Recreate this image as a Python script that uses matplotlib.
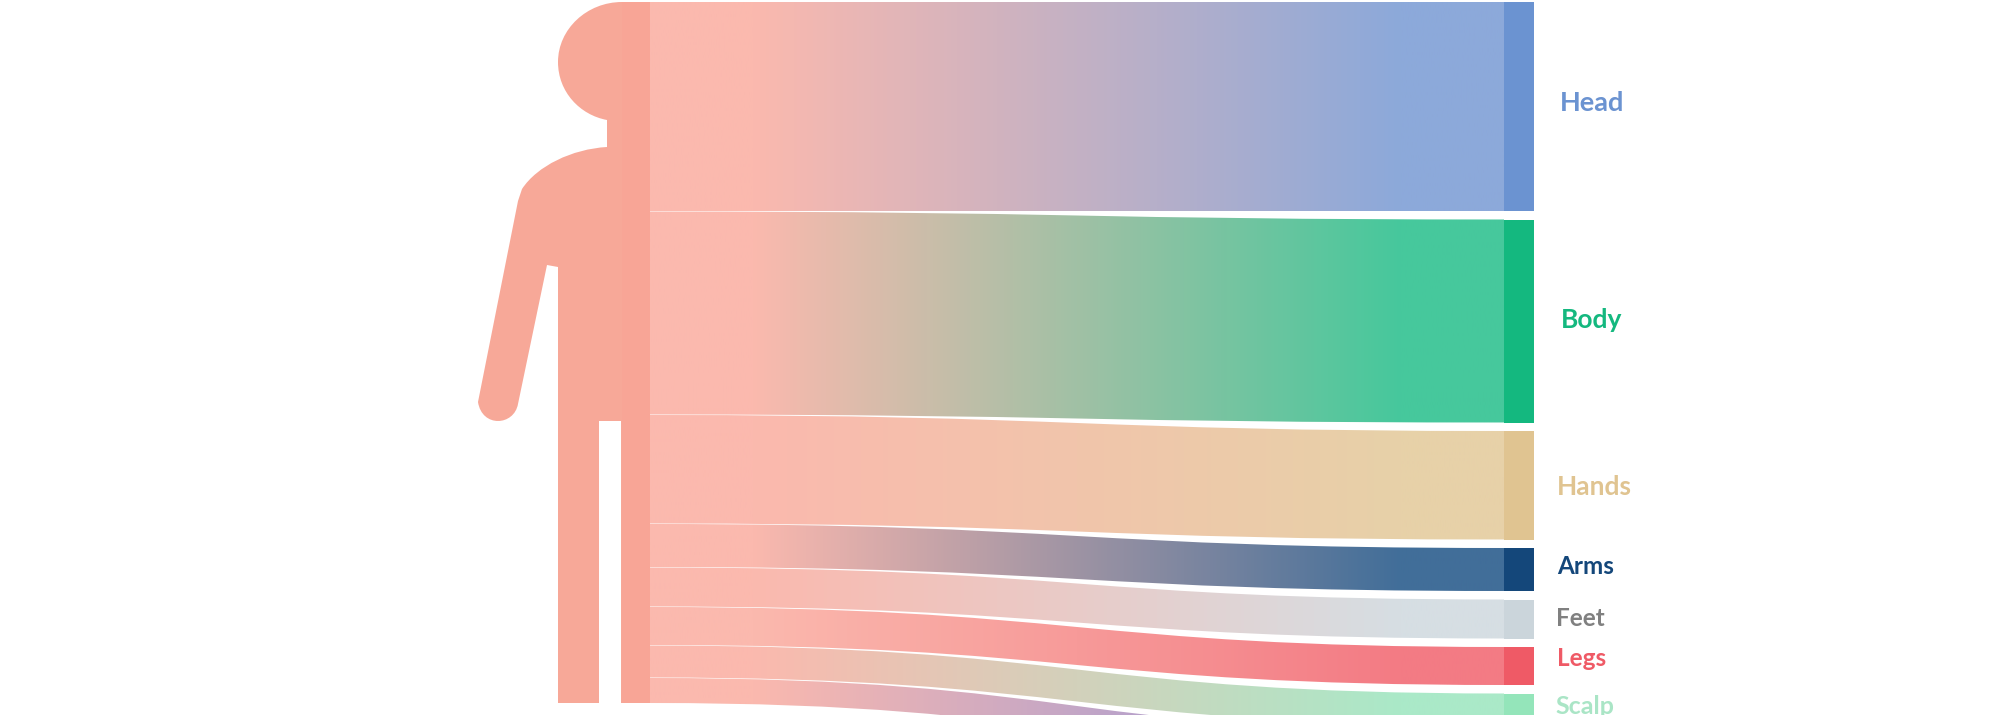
#!/usr/bin/env python3

import numpy as np
import matplotlib
matplotlib.use('Agg')
import matplotlib.pyplot as plt
from matplotlib.colors import LinearSegmentedColormap
from matplotlib.patches import PathPatch, Rectangle
from matplotlib.path import Path

names = ['Head', 'Body', 'Hands', 'Arms', 'Feet', 'Legs', 'Scalp', 'Other']
values = [209, 203, 108.5, 43, 39, 38, 32, 25]

node_colors = ['#6B93D1', '#14B87F', '#E0C491', '#14477A', '#CBD5DB', '#EF5A66', '#94E5BA', '#7A82D8']
link_colors = ['#8CA9DA', '#46C89C', '#E7D1A8', '#416E99', '#D6DEE3', '#F37B84', '#AAE9C8', '#8C93DE']
label_colors = ['#6B93D1', '#14B87F', '#E0C491', '#14477A', '#808080', '#EF5A66', '#AAE5C6', '#7A82D8']

body_color = '#F7A898'
source_color = '#F8A596'
link_start = '#FBB9AE'

left_gap = 0.5
right_gap = 8.5
top = 2

# link and node columns, in pixels
x_source = 622
x0 = 650
x1 = 1504
x_target = 1534

label_x = [1560, 1561, 1557, 1557, 1556, 1557, 1555, 1555]
label_y = [103, 320, 487, 566, 618, 659, 706, 741]
label_size = [19.5, 19, 19, 17.5, 17.5, 17.5, 18, 18]

fig = plt.figure(figsize=(20, 7.15), dpi=100)
ax = fig.add_axes([0, 0, 1, 1])
ax.set_xlim(0, 2000)
ax.set_ylim(715, 0)
ax.axis('off')

# person outline
verts = [
    (622, 2),
    (587, 2), (558, 29), (558, 62),
    (558, 92), (580, 115), (607, 120),
    (607, 147),
    (572, 149), (537, 166), (522, 189),
    (518, 201),
    (478, 402),
    (482, 428), (514, 426), (518, 404),
    (547, 265),
    (558, 267),
    (558, 703),
    (599, 703),
    (599, 421),
    (621, 421),
    (621, 703),
    (622, 703),
    (622, 2),
]
codes = [Path.MOVETO,
         Path.CURVE4, Path.CURVE4, Path.CURVE4,
         Path.CURVE4, Path.CURVE4, Path.CURVE4,
         Path.LINETO,
         Path.CURVE4, Path.CURVE4, Path.CURVE4,
         Path.LINETO,
         Path.LINETO,
         Path.CURVE4, Path.CURVE4, Path.CURVE4,
         Path.LINETO, Path.LINETO, Path.LINETO, Path.LINETO,
         Path.LINETO, Path.LINETO, Path.LINETO, Path.LINETO,
         Path.CLOSEPOLY]
ax.add_patch(PathPatch(Path(verts, codes), fc=body_color, ec='none'))

ly = top
ry = top
xm = (x0 + x1) / 2
for i in range(len(values)):
    v = values[i]
    verts = [(x0, ly), (xm, ly), (xm, ry), (x1, ry),
             (x1, ry + v), (xm, ry + v), (xm, ly + v), (x0, ly + v), (x0, ly)]
    codes = [Path.MOVETO, Path.CURVE4, Path.CURVE4, Path.CURVE4,
             Path.LINETO, Path.CURVE4, Path.CURVE4, Path.CURVE4, Path.CLOSEPOLY]
    patch = PathPatch(Path(verts, codes), fc='none', ec='none', transform=ax.transData)
    ax.add_patch(patch)

    # gradient holds flat near both ends
    cmap = LinearSegmentedColormap.from_list(names[i], [(0, link_start), (0.12, link_start),
                                                        (0.88, link_colors[i]), (1, link_colors[i])])
    grad = np.linspace(0, 1, 512).reshape(1, -1)
    im = ax.imshow(grad, cmap=cmap, extent=(x0, x1, 800, 0), aspect='auto', zorder=2)
    im.set_clip_path(patch)

    ax.add_patch(Rectangle((x1, ry), x_target - x1, v, fc=node_colors[i], ec='none', zorder=3))

    if ry < 715:
        ax.text(label_x[i], label_y[i], names[i], color=label_colors[i], family='Lato', weight='bold',
                fontsize=label_size[i], va='center', ha='left')

    ly += v + left_gap
    ry += v + right_gap

ax.add_patch(Rectangle((x_source, top), x0 - x_source, ly - left_gap - top, fc=source_color, ec='none', zorder=3))

ax.set_xlim(0, 2000)
ax.set_ylim(715, 0)

fig.savefig('out.png', dpi=100)
